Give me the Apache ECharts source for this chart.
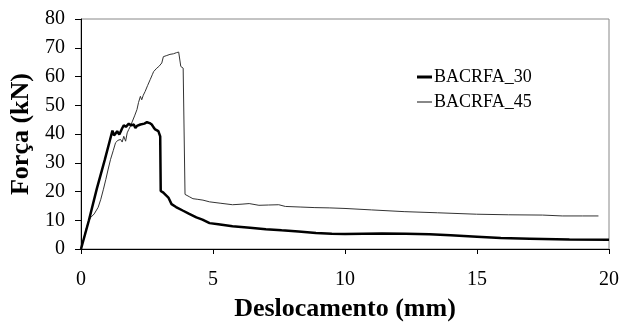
<!DOCTYPE html>
<html>
<head>
<meta charset="utf-8">
<script src="https://cdn.jsdelivr.net/npm/echarts@6/dist/echarts.min.js"></script>
<style>
  html, body { margin: 0; padding: 0; background: #fff; }
  #chart { width: 622px; height: 327px; }
</style>
</head>
<body>
<div id="chart"></div>
<script>
// Force–displacement curves, [deslocamento (mm), força (kN)]
const seriesNames = ['BACRFA_30', 'BACRFA_45'];

const bacrfa30 = [
  [0,0],[0.3,10],[0.6,21],[0.9,31],[1.1,38],[1.19,41.2],[1.25,39.5],[1.32,40.3],[1.37,41],
  [1.45,39.8],[1.5,40.8],[1.56,42],[1.62,43],[1.7,42.5],[1.81,43.6],[1.9,43],[2.0,43.3],
  [2.06,42.1],[2.12,42.8],[2.25,43.3],[2.4,43.6],[2.5,44.1],[2.6,43.8],[2.68,43.3],[2.75,42.3],
  [2.81,41.6],[2.93,41],[3.0,39.2],[3.02,20.2],[3.12,19.6],[3.31,17.9],[3.43,15.6],[3.6,14.6],
  [3.87,13.3],[4.1,12.2],[4.37,11],[4.6,10.2],[4.87,9.0],[5.2,8.6],[5.74,7.9],[6.4,7.4],
  [7.0,6.9],[7.6,6.5],[8.24,6.1],[8.9,5.6],[9.5,5.3],[10,5.2],[10.7,5.3],[11.4,5.4],[12.3,5.3],
  [13.2,5.1],[14.0,4.8],[15.0,4.3],[15.9,3.8],[17,3.6],[18.5,3.3],[20,3.2]
];

const bacrfa45 = [
  [0,0],[0.1,3.5],[0.19,6.9],[0.28,9.5],[0.37,11],[0.5,12.2],[0.56,12.7],[0.65,14.5],[0.75,17.3],
  [0.85,20.8],[0.94,24.2],[1.03,27.8],[1.12,31.2],[1.22,34.2],[1.31,37],[1.4,37.8],[1.5,38.1],
  [1.56,37.2],[1.62,39.2],[1.69,37.5],[1.75,40.4],[1.81,41.6],[1.87,42.7],[1.95,44.5],[2.03,46.3],
  [2.12,48.5],[2.18,51],[2.25,53.1],[2.3,51.9],[2.36,53.5],[2.43,54.8],[2.52,56.8],[2.62,58.9],
  [2.7,60.6],[2.75,61.7],[2.8,62.3],[2.87,62.9],[2.95,63.5],[3.06,64.7],[3.12,66.9],[3.25,67.3],
  [3.37,67.7],[3.5,67.9],[3.62,68.3],[3.7,68.5],[3.75,68.7],[3.78,63.5],[3.87,62.9],[3.93,62.5],
  [3.94,19.0],[3.98,18.8],[4.1,18.2],[4.24,17.5],[4.4,17.3],[4.62,17.0],[4.87,16.4],[5.3,15.9],
  [5.74,15.4],[6.1,15.6],[6.37,15.8],[6.74,15.2],[7.1,15.3],[7.49,15.4],[7.74,14.8],[8.3,14.6],
  [8.86,14.4],[9.4,14.3],[10,14.1],[11,13.6],[12.24,13.0],[13.5,12.6],[14.98,12.1],[16.2,11.9],
  [17.48,11.8],[18.23,11.5],[19.0,11.5],[19.6,11.5]
];

const xTicks = { min: 0, max: 20, step: 5 };
const yTicks = { min: 0, max: 80, step: 10 };

const serif = '"Liberation Serif", "Times New Roman", serif';

const chart = echarts.init(document.getElementById('chart'), null, { renderer: 'canvas' });

chart.setOption({
  animation: false,
  backgroundColor: '#fff',
  grid: {
    left: 80, right: 8, top: 19, bottom: 76,
    show: true, borderColor: '#888', borderWidth: 1
  },
  legend: [
    {
      data: [{ name: seriesNames[0], icon: 'rect', itemStyle: { color: '#000' } }],
      left: 417, top: 68, itemWidth: 15, itemHeight: 3, itemGap: 5,
      padding: 0,
      textStyle: { fontFamily: serif, fontSize: 18, color: '#000', padding: [0, 0, 0, -3] }
    },
    {
      data: [{ name: seriesNames[1], icon: 'rect', itemStyle: { color: '#888' } }],
      left: 417, top: 93, itemWidth: 15, itemHeight: 2, itemGap: 5,
      padding: 0,
      textStyle: { fontFamily: serif, fontSize: 18, color: '#000', padding: [0, 0, 0, -3] }
    }
  ],
  xAxis: {
    type: 'value',
    min: xTicks.min, max: xTicks.max, interval: xTicks.step,
    name: 'Deslocamento (mm)',
    nameLocation: 'middle',
    nameGap: 47,
    nameTextStyle: { fontFamily: serif, fontSize: 26, fontWeight: 'bold', color: '#000' },
    axisLine: { lineStyle: { color: '#000', width: 1 } },
    axisTick: { show: true, inside: false, length: 5, lineStyle: { color: '#000' } },
    axisLabel: { fontFamily: serif, fontSize: 20, color: '#000', margin: 21 },
    splitLine: { show: false }
  },
  yAxis: {
    type: 'value',
    min: yTicks.min, max: yTicks.max, interval: yTicks.step,
    name: 'Força (kN)',
    nameLocation: 'middle',
    nameGap: 47,
    nameTextStyle: { fontFamily: serif, fontSize: 26, fontWeight: 'bold', color: '#000' },
    axisLine: { show: true, lineStyle: { color: '#000', width: 1 } },
    axisTick: { show: true, inside: false, length: 6, lineStyle: { color: '#000' } },
    axisLabel: { fontFamily: serif, fontSize: 20, color: '#000', margin: 16 },
    splitLine: { show: false }
  },
  series: [
    {
      name: seriesNames[0],
      type: 'line',
      data: bacrfa30,
      showSymbol: false,
      lineStyle: { color: '#000', width: 2.5 },
      itemStyle: { color: '#000' },
      z: 3
    },
    {
      name: seriesNames[1],
      type: 'line',
      data: bacrfa45,
      showSymbol: false,
      lineStyle: { color: '#333', width: 1 },
      itemStyle: { color: '#888' },
      z: 2
    }
  ]
});
</script>
</body>
</html>
